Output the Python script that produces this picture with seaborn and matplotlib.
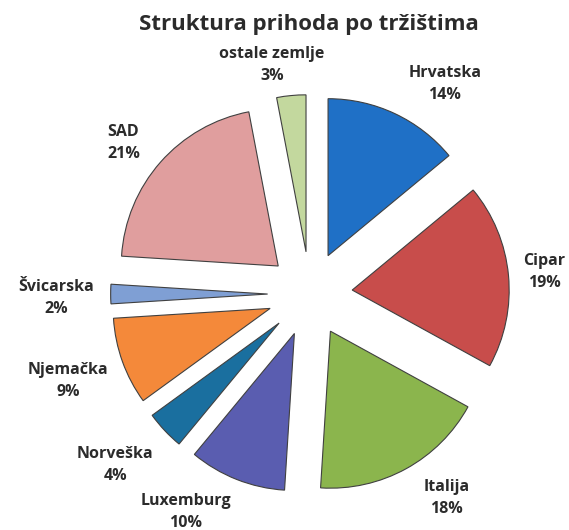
import numpy as np
import matplotlib
matplotlib.use("Agg")
import matplotlib.pyplot as plt
import seaborn as sns

sns.set_theme(style="white")
plt.rcParams['font.family'] = ['Open Sans', 'DejaVu Sans']

title = "Struktura prihoda po tržištima"
countries = ["Hrvatska", "Cipar", "Italija", "Luxemburg", "Norveška",
             "Njemačka", "Švicarska", "SAD", "ostale zemlje"]
shares = [14, 19, 18, 10, 4, 9, 2, 21, 3]

colors = ["#1f70c6", "#c84d4b", "#8bb54d", "#5a5db0", "#1a6f9f",
          "#f4893a", "#7f9fd4", "#e09e9e", "#c3d89e"]
# label layout: angle offset (deg) from wedge middle, radius (pie radii)
label_dang = [-7.5, 0, 5, -8, -2, 0, 1, 2.4, 4]
label_r = [1.59, 1.50, 1.56, 1.60, 1.65, 1.64, 1.62, 1.53, 1.48]

XLIM = (-1.975, 1.650)
YLIM = (-1.503, 1.873)

fig = plt.figure(figsize=(5.69, 5.30), dpi=100)
ax = fig.add_axes([0, 0, 1, 1])

wedges, _ = ax.pie(shares, colors=colors, startangle=90, counterclock=False,
                   explode=[0.27] * len(shares), radius=1.0,
                   wedgeprops=dict(edgecolor="#404040", linewidth=0.8))
ax.set_xlim(*XLIM)
ax.set_ylim(*YLIM)
ax.set_aspect("auto")
ax.axis("off")

for w, name, val, da, r in zip(wedges, countries, shares, label_dang, label_r):
    mid = np.deg2rad((w.theta1 + w.theta2) / 2 + da)
    ax.text(r * np.cos(mid), r * np.sin(mid), f"{name}\n{val}%",
            ha="center", va="center", fontsize=11.5, fontweight="bold",
            color="#2b2b2b", linespacing=1.5)

fig.text(0.543, 0.953, title, ha="center", va="center", fontsize=16,
         fontweight="bold", color="#2b2b2b")

fig.savefig("out.png", dpi=100, facecolor="white")
